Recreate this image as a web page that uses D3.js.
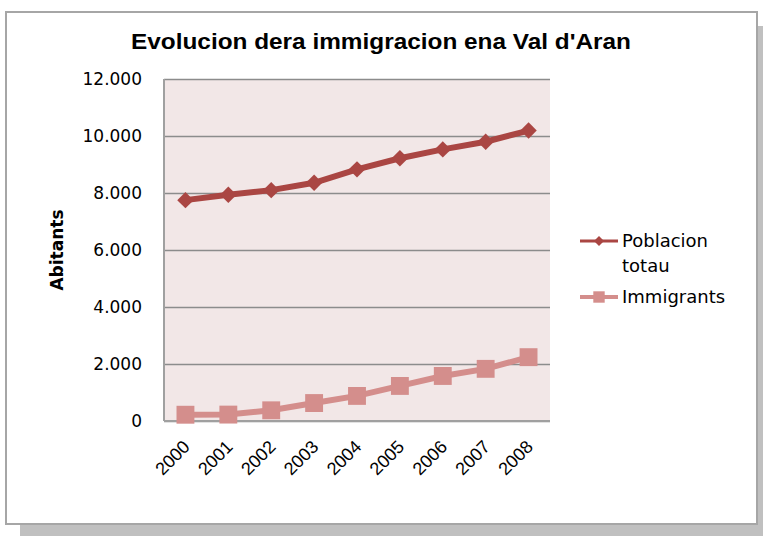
<!DOCTYPE html>
<html>
<head>
<meta charset="utf-8">
<script src="https://cdn.jsdelivr.net/npm/d3@7"></script>
<style>
  body { margin: 0; background: #fff; }
  svg { display: block; }
</style>
</head>
<body>
<div id="chart"></div>
<script>
const years = ["2000", "2001", "2002", "2003", "2004", "2005", "2006", "2007", "2008"];
const poblacion = [7750, 7940, 8100, 8360, 8830, 9220, 9530, 9800, 10190];
const immigrants = [220, 225, 375, 630, 880, 1230, 1580, 1830, 2240];
const yTicks = [0, 2000, 4000, 6000, 8000, 10000, 12000];
const seriesNames = ["Poblacion totau", "Immigrants"];

const width = 763, height = 537;
const plot = {left: 164, right: 550, top: 79, bottom: 421};
const colors = ["#AA4643", "#D48E8C"];

const svg = d3.select("#chart").append("svg")
  .attr("width", width)
  .attr("height", height);

// shadow + frame
svg.append("rect")
  .attr("x", 20).attr("y", 26)
  .attr("width", 743).attr("height", 510)
  .attr("fill", "#c0c0c0");
svg.append("rect")
  .attr("x", 6).attr("y", 12)
  .attr("width", 751).attr("height", 512)
  .attr("fill", "#fff")
  .attr("stroke", "#a6a6a6")
  .attr("stroke-width", 2);

const x = d3.scalePoint().domain(years).range([plot.left, plot.right]).padding(0.5);
const y = d3.scaleLinear().domain([0, 12000]).range([plot.bottom, plot.top]);

const fmt = d => d3.format(",")(d).replace(/,/g, ".");

// plot background
svg.append("rect")
  .attr("x", plot.left).attr("y", plot.top)
  .attr("width", plot.right - plot.left)
  .attr("height", plot.bottom - plot.top)
  .attr("fill", "#F2E7E7");

// gridlines
const grid = svg.append("g")
  .attr("transform", `translate(${plot.left},0)`)
  .call(d3.axisLeft(y).tickValues(yTicks).tickSize(-(plot.right - plot.left)).tickFormat(""));
grid.select(".domain").remove();
grid.selectAll("line").attr("stroke", "#8c8c8c").attr("stroke-width", 1.3);

// y axis labels
const yAxis = svg.append("g")
  .attr("transform", `translate(${plot.left},0)`)
  .call(d3.axisLeft(y).tickValues(yTicks).tickSize(0).tickPadding(22).tickFormat(fmt));
yAxis.select(".domain").remove();
yAxis.selectAll("text")
  .attr("font-family", "DejaVu Sans")
  .attr("font-size", 17)
  .attr("fill", "#000");

// axis lines
svg.append("line")
  .attr("x1", plot.left).attr("x2", plot.left)
  .attr("y1", plot.top).attr("y2", plot.bottom)
  .attr("stroke", "#a0a0a0").attr("stroke-width", 2);
svg.append("line")
  .attr("x1", plot.left).attr("x2", plot.right)
  .attr("y1", plot.bottom).attr("y2", plot.bottom)
  .attr("stroke", "#a0a0a0").attr("stroke-width", 2);

// x axis labels
const xAxis = svg.append("g")
  .attr("transform", `translate(0,${plot.bottom})`)
  .call(d3.axisBottom(x).tickSize(0).tickFormat(d => d));
xAxis.select(".domain").remove();
xAxis.selectAll("text")
  .attr("font-family", "Liberation Sans, sans-serif")
  .attr("font-size", 18)
  .attr("fill", "#000")
  .attr("text-anchor", "end")
  .attr("dy", null)
  .attr("y", 0)
  .attr("transform", "translate(5,27) rotate(-45)");

// series
const line = d3.line().x((d, i) => x(years[i])).y(d => y(d));

svg.append("path")
  .datum(immigrants)
  .attr("d", line)
  .attr("fill", "none")
  .attr("stroke", colors[1])
  .attr("stroke-width", 6);
svg.selectAll("path.sq").data(immigrants).join("path")
  .attr("class", "sq")
  .attr("d", d3.symbol(d3.symbolSquare, 320))
  .attr("transform", (d, i) => `translate(${x(years[i])},${y(d)})`)
  .attr("fill", colors[1]);

svg.append("path")
  .datum(poblacion)
  .attr("d", line)
  .attr("fill", "none")
  .attr("stroke", colors[0])
  .attr("stroke-width", 6);
svg.selectAll("path.dm").data(poblacion).join("path")
  .attr("class", "dm")
  .attr("d", d3.symbol(d3.symbolSquare, 135))
  .attr("transform", (d, i) => `translate(${x(years[i])},${y(d)}) rotate(45)`)
  .attr("fill", colors[0]);

// title
svg.append("text")
  .attr("x", 381).attr("y", 49)
  .attr("text-anchor", "middle")
  .attr("font-family", "Liberation Sans, sans-serif")
  .attr("font-weight", "bold")
  .attr("font-size", 22)
  .attr("textLength", 500)
  .attr("lengthAdjust", "spacingAndGlyphs")
  .text("Evolucion dera immigracion ena Val d'Aran");

// y title
svg.append("text")
  .attr("transform", "translate(63,250) rotate(-90)")
  .attr("text-anchor", "middle")
  .attr("font-family", "DejaVu Sans")
  .attr("font-weight", "bold")
  .attr("font-size", 17)
  .text("Abitants");

// legend
const legend = svg.append("g").attr("font-family", "DejaVu Sans").attr("font-size", 18);
const legY = [241, 297];
legY.forEach((ly, i) => {
  legend.append("line")
    .attr("x1", 580).attr("x2", 618)
    .attr("y1", ly).attr("y2", ly)
    .attr("stroke", colors[i]).attr("stroke-width", i === 0 ? 3 : 4);
  legend.append("path")
    .attr("d", d3.symbol(d3.symbolSquare, i === 0 ? 50 : 130))
    .attr("transform", `translate(599,${ly})` + (i === 0 ? " rotate(45)" : ""))
    .attr("fill", colors[i]);
});
const t1 = legend.append("text").attr("x", 622).attr("y", 247);
t1.append("tspan").attr("x", 622).text("Poblacion");
t1.append("tspan").attr("x", 622).attr("dy", 25).text("totau");
legend.append("text").attr("x", 622).attr("y", 303).text(seriesNames[1]);
</script>
</body>
</html>
